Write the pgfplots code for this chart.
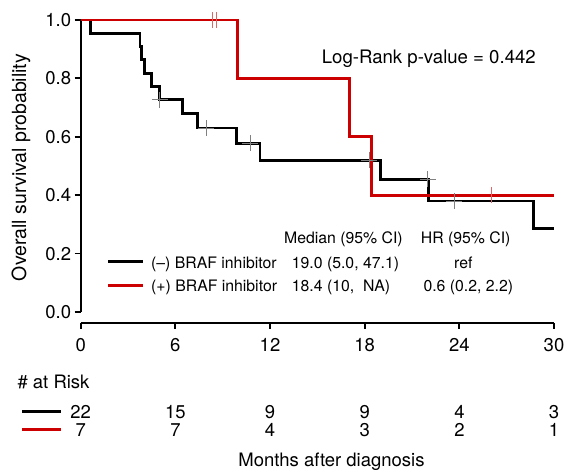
\documentclass[border=0pt]{standalone}
\usepackage{pgfplots}
\pgfplotsset{compat=1.18}
\usepackage{fontspec}
\setmainfont{TeX Gyre Heros}
\definecolor{kmred}{RGB}{204,0,0}
\newcommand{\mainfont}{\fontsize{18.5}{21}\selectfont}
\newcommand{\legfont}{\fontsize{15.8}{18}\selectfont}
\begin{document}
\begin{tikzpicture}
\useasboundingbox (0pt,0pt) rectangle (565pt,469pt);
\begin{axis}[
  at={(80.7pt,157pt)}, anchor=south west,
  scale only axis, width=473.3pt, height=292pt,
  xmin=0, xmax=30, ymin=0, ymax=1,
  axis x line*=bottom, axis y line*=left,
  x axis line style={-, yshift=-11pt, line width=1.8pt},
  y axis line style={-, line width=1.8pt},
  xtick={0,6,12,18,24,30}, xticklabels={0,6,12,18,24,30},
  ytick={0,0.2,0.4,0.6,0.8,1}, yticklabels={0.0,0.2,0.4,0.6,0.8,1.0},
  tick align=outside, major tick length=6pt,
  xtick style={yshift=-11pt, line width=1.8pt, black},
  ytick style={line width=1.8pt, black},
  xticklabel style={yshift=-17pt, font=\mainfont},
  yticklabel style={font=\mainfont},
  clip=false,
]
\addplot[const plot, black, line width=2.8pt] coordinates {
 (0,1) (0.63,0.9545) (3.76,0.909) (3.86,0.864) (4.03,0.818) (4.5,0.773)
 (4.98,0.727) (6.44,0.679) (7.41,0.630) (9.86,0.578) (11.36,0.520)
 (19.0,0.455) (22.07,0.380) (28.68,0.285) (30,0.285)};
\addplot[const plot, kmred, line width=2.8pt] coordinates {
 (0,1) (9.92,0.8) (17.06,0.6) (18.44,0.4) (30,0.4)};
\addplot[only marks, mark=+, mark size=8pt, gray, mark options={line width=0.7pt}] coordinates {
 (5.0,0.727) (7.94,0.630) (10.75,0.578) (18.27,0.520) (22.0,0.455) (23.68,0.380)};
\addplot[only marks, mark=|, mark size=8pt, kmred!60, mark options={line width=0.7pt}] coordinates {
 (8.34,1) (8.62,1) (26.05,0.4)};
\end{axis}
\node[rotate=90, font=\fontsize{19.5}{22}\selectfont] at (21pt,301.5pt) {Overall survival probability};
\node[anchor=base west, font=\fontsize{18.6}{21}\selectfont, inner sep=0pt] at (321.7pt,405.7pt) {Log-Rank p-value = 0.442};
% legend table
\begin{scope}[every node/.style={font=\legfont, inner sep=0pt}]
\node[anchor=base west] at (284pt,225.7pt) {Median (95\% CI)};
\node[anchor=base west] at (420.7pt,225.7pt) {HR (95\% CI)};
\draw[black, line width=2.8pt] (108.3pt,207.3pt) -- (142.7pt,207.3pt);
\draw[kmred, line width=2.8pt] (108.3pt,183.7pt) -- (142.7pt,183.7pt);
\node[anchor=base west] at (151pt,200.7pt) {(--) BRAF inhibitor};
\node[anchor=base west] at (151pt,177.3pt) {(+) BRAF inhibitor};
\node[anchor=base west] at (291.7pt,200.7pt) {19.0 (5.0, 47.1)};
\node[anchor=base west] at (291.7pt,177.3pt) {18.4 (10, \ NA)};
\node[anchor=base] at (463.3pt,200.7pt) {ref};
\node[anchor=base west] at (423.3pt,177.3pt) {0.6 (0.2, 2.2)};
\end{scope}
% at risk table
\begin{scope}[every node/.style={font=\mainfont, inner sep=0pt, anchor=base}]
\node[anchor=base west] at (17.3pt,80.7pt) {\# at Risk};
\draw[black, line width=2.8pt] (22pt,57.3pt) -- (60.5pt,57.3pt);
\draw[kmred, line width=2.8pt] (22pt,39.3pt) -- (60.5pt,39.3pt);
\node at (80.7pt,50.8pt) {22};
\node at (175.4pt,50.8pt) {15};
\node at (270.0pt,50.8pt) {9};
\node at (364.7pt,50.8pt) {9};
\node at (459.4pt,50.8pt) {4};
\node at (554.0pt,50.8pt) {3};
\node at (80.7pt,32.8pt) {7};
\node at (175.4pt,32.8pt) {7};
\node at (270.0pt,32.8pt) {4};
\node at (364.7pt,32.8pt) {3};
\node at (459.4pt,32.8pt) {2};
\node at (554.0pt,32.8pt) {1};
\node at (331.5pt,3pt) {Months after diagnosis};
\end{scope}
\end{tikzpicture}
\end{document}
